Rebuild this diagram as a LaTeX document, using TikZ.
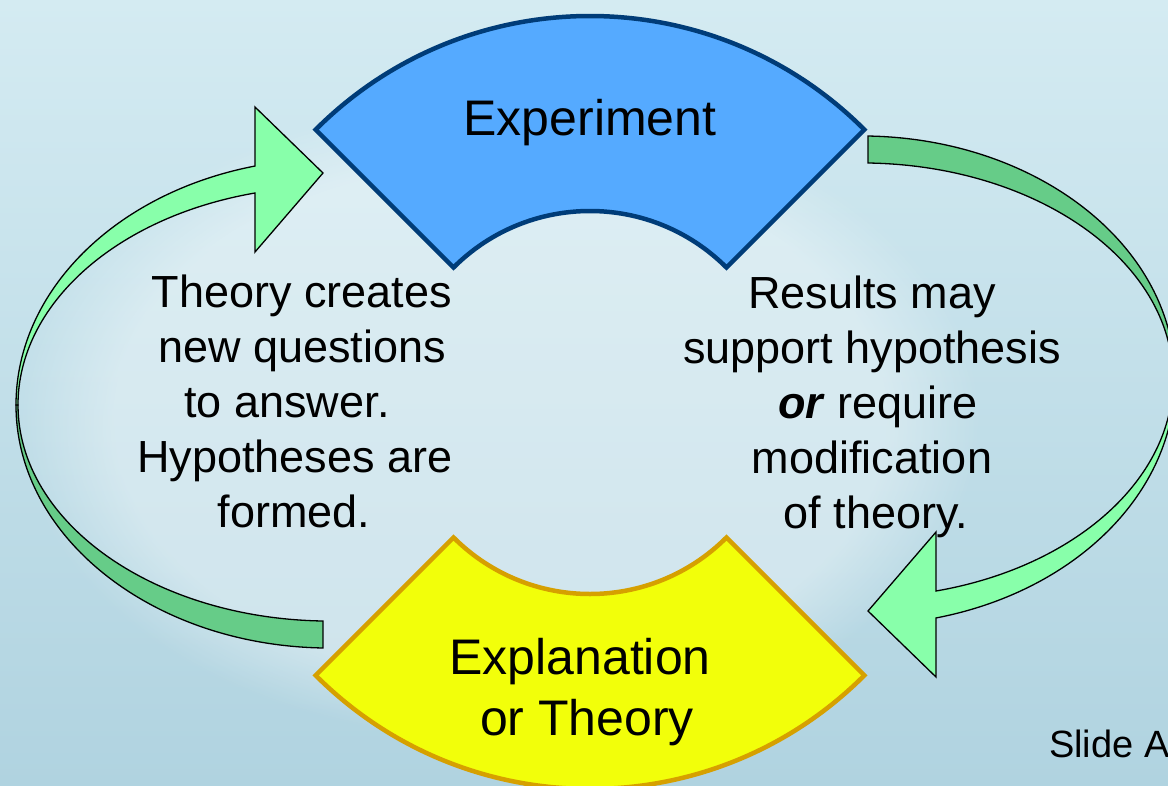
\documentclass[tikz,border=0pt]{standalone}
\usepackage{fontspec}
\setmainfont{Liberation Sans}
\usetikzlibrary{positioning}
\usetikzlibrary{fadings}
\definecolor{bgtop}{RGB}{212,235,242}
\definecolor{bgbot}{RGB}{176,211,224}
\definecolor{expfill}{RGB}{85,170,255}
\definecolor{expline}{RGB}{0,60,120}
\definecolor{thfill}{RGB}{242,255,10}
\definecolor{thline}{RGB}{214,160,0}
\definecolor{ribbonlight}{RGB}{136,255,170}
\definecolor{ribbondark}{RGB}{102,204,136}

\begin{document}
\begin{tikzpicture}[x=1pt, y=-1pt,
    bodytext/.style={font=\fontsize{45}{54}\selectfont, anchor=base, inner sep=0pt},
    boxtitle/.style={font=\fontsize{50}{60}\selectfont, anchor=base, inner sep=0pt},
    ribbonfront/.style={fill=ribbonlight, draw=black, line width=1.3pt},
    ribbonback/.style={fill=ribbondark, draw=black, line width=1.3pt}]
    \useasboundingbox (0,0) rectangle (1168,785);
    \clip (0,0) rectangle (1168,785);
    \shade[top color=bgtop, bottom color=bgbot] (0,0) rectangle (1168,785);
    \fill[white, opacity=0.35, path fading=circle with fuzzy edge 20 percent] (500,420) ellipse[x radius=480, y radius=320];

    \coordinate (expc) at (590,404);
    \coordinate (thc) at (590,401);
    \filldraw[fill=expfill, draw=expline, line width=4.5pt]
        ([shift={(expc)}]225:388) arc[start angle=225, end angle=315, radius=388]
        -- ([shift={(expc)}]315:193) arc[start angle=315, end angle=225, radius=193] -- cycle;
    \filldraw[fill=thfill, draw=thline, line width=4.5pt]
        ([shift={(thc)}]135:388) arc[start angle=135, end angle=45, radius=388]
        -- ([shift={(thc)}]45:193) arc[start angle=45, end angle=135, radius=193] -- cycle;

    \foreach \r in {0,180} {
        \begin{scope}[rotate around={\r:(595.5,392)}]
            \filldraw[ribbonback] (16,405) arc[start angle=180, end angle=91.28, x radius=314, y radius=243.06]
                -- (323,621) arc[start angle=91.29, end angle=180, x radius=312, y radius=216.05] -- cycle;
            \filldraw[ribbonfront] (16,405) arc[start angle=180, end angle=256.18, x radius=314, y radius=246.1]
                -- (255,107) -- (323,173) -- (255,252) -- (255,193)
                arc[start angle=256.09, end angle=180, x radius=312, y radius=218.4] -- cycle;
        \end{scope}
    }

    \node[boxtitle] (exp) at (590,135) {Experiment};
    \node[boxtitle] (expl) at (580,674) {Explanation};
    \node[boxtitle] (theory) at (587,735) {or Theory};

    \foreach \t/\x [count=\i] in {Theory creates/302, new questions/302, to answer./287, Hypotheses are/295, formed./294}
        \node[bodytext] (left\i) at (\x, 252+55*\i) {\t};
    \foreach \t/\x [count=\i] in {Results may/872, support hypothesis/872, {\textbf{\textit{or}} require}/878, modification/872, of theory./876}
        \node[bodytext] (right\i) at (\x, 253+55*\i) {\t};

    \node[font=\fontsize{38}{45}\selectfont, anchor=base west, inner sep=0pt] (slide) at (1049,757) {Slide A};
\end{tikzpicture}
\end{document}
